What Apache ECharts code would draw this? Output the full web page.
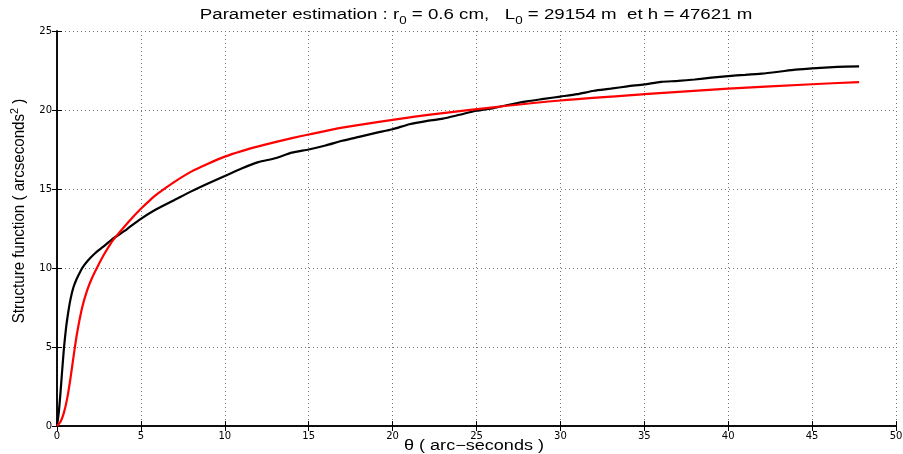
<!DOCTYPE html>
<html><head><meta charset="utf-8">
<script src="https://cdn.jsdelivr.net/npm/echarts@6/dist/echarts.min.js"></script>
<style>html,body{margin:0;padding:0;background:#fff}#c{width:903px;height:454px}</style>
</head><body><div id="c"></div>
<script>
var blackX = [0,0.1,0.2,0.3,0.42,0.55,0.67,0.8,0.97,1.17,1.4,1.57,1.87,2.27,2.76,3.26,4.16,4.95,5.84,7,8,9,10,11,12,13,14,15,16,17,18,19,20,21,22,23,24,25,26,27,28,29,30,31,32,33,34,35,36,37,38,39,40,41,42,43,44,45,46,47,47.8];
var blackY = [0,0.8,2.0,3.4,5.0,6.3,7.2,8.0,8.75,9.3,9.8,10.1,10.5,10.93,11.35,11.8,12.45,13.08,13.67,14.3,14.85,15.35,15.82,16.3,16.7,16.95,17.3,17.5,17.75,18.05,18.3,18.55,18.78,19.1,19.3,19.45,19.7,19.95,20.12,20.35,20.55,20.7,20.85,21.0,21.22,21.35,21.5,21.62,21.78,21.84,21.93,22.05,22.15,22.22,22.3,22.42,22.55,22.64,22.7,22.75,22.76];
var redX = [0,0.2,0.4,0.6,0.8,1.0,1.2,1.5,1.8,2.1,2.4,2.8,3.2,3.6,4,4.5,5,5.5,6,7,8,9,10,11,12,13,14,15,17,20,23,26,30,35,40,45,47.8];
var redY = [0,0.25,0.8,1.7,3.0,4.5,5.9,7.5,8.6,9.4,10.05,10.85,11.55,12.1,12.6,13.2,13.75,14.25,14.7,15.45,16.1,16.6,17.05,17.4,17.7,17.97,18.22,18.45,18.88,19.38,19.8,20.17,20.6,21.0,21.35,21.63,21.77];
var xTicks = [0,5,10,15,20,25,30,35,40,45,50];
var yTicks = [0,5,10,15,20,25];

function pairs(xs, ys){ return xs.map(function(x,i){return [x, ys[i]];}); }
var FONT = '"Liberation Sans", Arial, Helvetica, sans-serif';
var TICKFONT = '"DejaVu Sans", sans-serif';
var chart = echarts.init(document.getElementById('c'));
var gridLine = {show:true, lineStyle:{color:'#777', type:[1,3], width:1}};
chart.setOption({
  animation:false,
  backgroundColor:'#fff',
  grid:{left:57, right:7, top:31, bottom:28, containLabel:false, outerBoundsMode:'none'},
  graphic:[
    {type:'text', x:476, y:15, scaleX:1.335, scaleY:1, z:10,
     style:{text:'{n|Parameter estimation : r}{s|0}{n| = 0.6 cm,   L}{s|0}{n| = 29154 m  et h = 47621 m}',
       align:'center', verticalAlign:'middle',
       rich:{n:{fontFamily:FONT,fontSize:14,fill:'#000'},
             s:{fontFamily:FONT,fontSize:10,fill:'#000',padding:[12,0,0,0]}}}},
    {type:'text', x:474, y:446, scaleX:1.29, scaleY:1, z:10,
     style:{text:'θ ( arc−seconds )', align:'center', verticalAlign:'middle',
       font:'14px "Liberation Sans", Arial, sans-serif', fill:'#000'}},
    {type:'text', x:20, y:211, rotation:Math.PI/2, scaleX:1.08, scaleY:1.15, z:10,
     style:{text:'{n|Structure function ( arcseconds}{s|2}{n| )}', align:'center', verticalAlign:'middle',
       rich:{n:{fontFamily:FONT,fontSize:14,fill:'#000'},
             s:{fontFamily:FONT,fontSize:10,fill:'#000',padding:[0,0,9,0]}}}}
  ],
  xAxis:[{
    type:'value', min:0, max:50, interval:5,
    axisLine:{show:true,onZero:false,lineStyle:{color:'#000',width:1.5}},
    axisTick:{show:true,inside:true,length:5,lineStyle:{color:'#000'}},
    axisLabel:{fontFamily:TICKFONT,fontSize:10,color:'#000',margin:5,
      formatter:function(v){return xTicks.indexOf(v)>=0? String(v):'';}},
    splitLine:gridLine
  },{
    type:'value', min:0, max:50, interval:5, position:'top',
    axisLine:{show:true,lineStyle:{color:'#000',width:1.5}},
    axisTick:{show:true,inside:true,length:5,lineStyle:{color:'#000'}},
    axisLabel:{show:false}, splitLine:{show:false}
  }],
  yAxis:[{
    type:'value', min:0, max:25, interval:5,
    axisLine:{show:true,onZero:false,lineStyle:{color:'#000',width:1.5}},
    axisTick:{show:true,inside:true,length:5,lineStyle:{color:'#000'}},
    axisLabel:{fontFamily:TICKFONT,fontSize:10,color:'#000',margin:5,
      formatter:function(v){return yTicks.indexOf(v)>=0? String(v):'';}},
    splitLine:gridLine
  },{
    type:'value', min:0, max:25, interval:5, position:'right',
    axisLine:{show:true,lineStyle:{color:'#000',width:1.5}},
    axisTick:{show:true,inside:true,length:5,lineStyle:{color:'#000'}},
    axisLabel:{show:false}, splitLine:{show:false}
  }],
  series:[
    {type:'line', data:pairs(blackX,blackY), smooth:0.2, symbol:'none',
     lineStyle:{color:'#000',width:2.2}, z:3},
    {type:'line', data:pairs(redX,redY), smooth:0.3, symbol:'none',
     lineStyle:{color:'#ff0000',width:2.2}, z:4}
  ]
});
</script></body></html>
